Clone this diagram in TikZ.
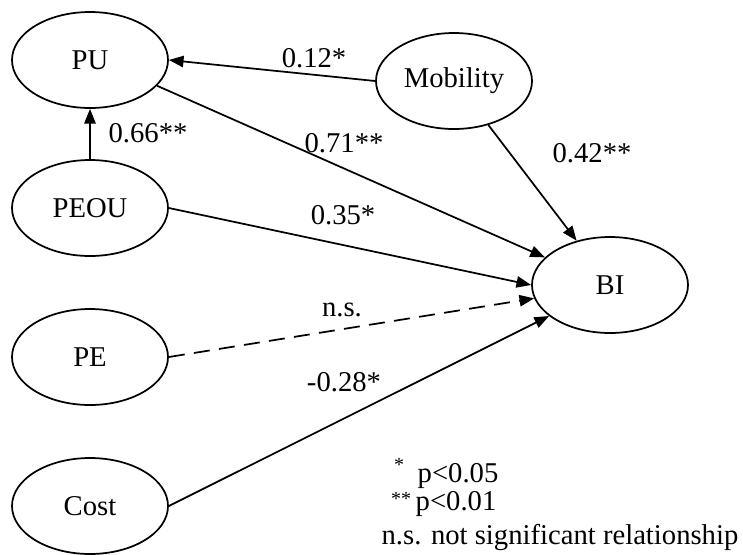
\documentclass[tikz,border=0pt]{standalone}
\usepackage{fontspec}
\setmainfont{Liberation Serif}
\usetikzlibrary{shapes.geometric,arrows.meta}
\newcommand\sigmark[1]{{\fontsize{15}{15}\selectfont #1}}
\begin{document}
\begin{tikzpicture}[x=0.75pt,y=-0.75pt,
  every node/.style={font=\fontsize{21.5}{24}\selectfont},
  latent/.style={ellipse,draw,line width=1.3pt,minimum width=117pt,minimum height=72pt,inner sep=0pt},
  path/.style={line width=1.3pt,-{Triangle[length=11pt,width=8.5pt]}},
  nspath/.style={path,dash pattern=on 12pt off 7pt},
  lbl/.style={inner sep=0pt}]
\useasboundingbox (0,0) rectangle (743,554);
\node[latent] (pu) at (90,60) {PU};
\node[latent] (mob) at (454,81) {Mobility};
\node[latent] (peou) at (90,208) {PEOU};
\node[latent] (bi) at (610,285) {BI};
\node[latent] (pe) at (90,357) {PE};
\node[latent] (cost) at (90,506) {Cost};

\draw[path] (mob.west) -- (pu.east);
\draw[path] (peou.north) -- (pu.south);
\draw[path] (pu.-21) -- (bi.157);
\draw[path] (mob.-52) -- (bi.127);
\draw[path] (peou.east) -- (bi.west);
\draw[nspath] (pe.east) -- (bi.190);
\draw[path] (cost.east) -- (bi.207);

\node[lbl] (l1) at (314,58) {0.12*};
\node[lbl] (l2) at (148,133) {0.66**};
\node[lbl] (l3) at (344,143) {0.71**};
\node[lbl] (l4) at (592,153) {0.42**};
\node[lbl] (l5) at (343,215) {0.35*};
\node[lbl] (l6) at (342,310) {n.s.};
\node[lbl] (l7) at (344,382) {-0.28*};

\node[lbl] (s1) at (399,465) {\sigmark{*}};
\node[lbl] (p1) at (458,476) {p<0.05};
\node[lbl] (s2) at (401,499) {\sigmark{**}};
\node[lbl] (p2) at (456,504) {p<0.01};
\node[lbl] (ns) at (560,537) {n.s. not significant relationship};
\end{tikzpicture}
\end{document}
